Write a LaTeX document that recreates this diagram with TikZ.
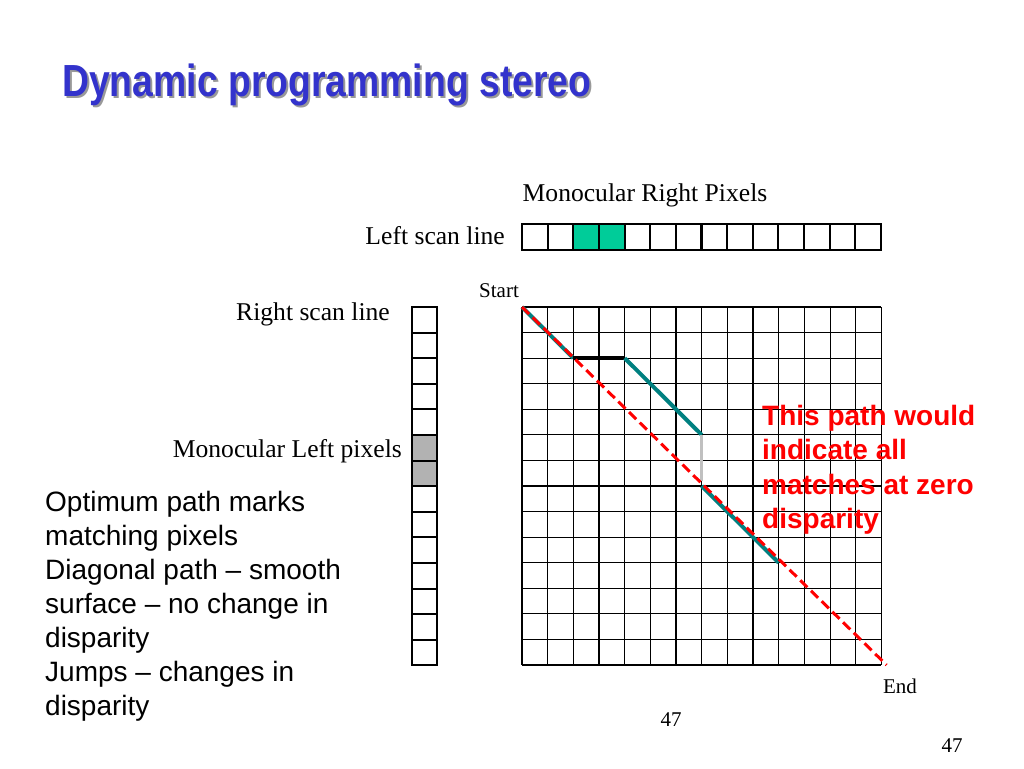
\documentclass[tikz,border=0pt]{standalone}
\usepackage{fontspec}
\setmainfont{Liberation Serif}
\setsansfont{Liberation Sans}
\newfontfamily\titlefont[FakeStretch=0.83]{Liberation Sans}
\usetikzlibrary{calc}
\usetikzlibrary{positioning}
\definecolor{titleblue}{RGB}{51,51,204}
\definecolor{cellgreen}{RGB}{0,204,153}
\definecolor{pathteal}{RGB}{0,128,128}
\definecolor{jumpgray}{RGB}{192,192,192}
\definecolor{cellgray}{RGB}{178,178,178}

\begin{document}
\begin{tikzpicture}[x=1pt, y=-1pt]
   \tikzstyle{cell}=[rectangle, draw, line width=2pt, minimum width=25.6pt, minimum height=25.6pt, inner sep=0pt]
   \tikzstyle{lbl}=[inner sep=0pt, font=\fontsize{25.6}{30}\selectfont]
   \tikzstyle{small}=[inner sep=0pt, font=\fontsize{21}{25}\selectfont]
   \tikzstyle{gridline}=[line width=1.1pt]
   \tikzstyle{match}=[pathteal, line width=4pt, line join=round]
   \useasboundingbox (0,0) rectangle (1024,768);

   % Title
   \node[anchor=base west, inner sep=0pt, text=black!40, font=\titlefont\bfseries\fontsize{45}{54}\selectfont] (shadow) at (64,98) {Dynamic programming stereo};
   \node[anchor=base west, inner sep=0pt, text=titleblue, font=\titlefont\bfseries\fontsize{45}{54}\selectfont] (title) at (62,96) {Dynamic programming stereo};

   % Left scan line (top row of pixels)
   \foreach \i/\c in {1/white,2/white,3/cellgreen,4/cellgreen,5/white,6/white,7/white,8/white,9/white,10/white,11/white,12/white,13/white,14/white}
      \node[cell, fill=\c] (top\i) at ({522+25.64*(\i-0.5)}, 237) {};
   % Right scan line (column of pixels)
   \foreach \i/\c in {1/white,2/white,3/white,4/white,5/white,6/cellgray,7/cellgray,8/white,9/white,10/white,11/white,12/white,13/white,14/white}
      \node[cell, fill=\c] (side\i) at (424.5, {307+25.6*(\i-0.5)}) {};

   % Labels
   \node[lbl, anchor=base] (monoright) at (645,201) {Monocular Right Pixels};
   \node[lbl, anchor=base east] (leftscan) at (505,244) {Left scan line};
   \node[lbl, anchor=base east] (rightscan) at (390,320) {Right scan line};
   \node[lbl, anchor=base east] (monoleft) at (402,457) {Monocular Left pixels};
   \node[small, anchor=base] (startlbl) at (499,297) {Start};
   \node[small, anchor=base] (endlbl) at (900,693) {End};
   \node[small, anchor=base] (pagea) at (671,726) {47};
   \node[small, anchor=base] (pageb) at (952,752) {47};

   % Match grid
   \begin{scope}[shift={(522,307)}, x=25.67pt, y=-25.57pt]
      \foreach \i in {0,...,14} {
         \draw[gridline] (\i,0) -- (\i,14);
         \draw[gridline] (0,\i) -- (14,\i);
      }
      \coordinate (start) at (0,0);
      \coordinate (occa) at (2,2);
      \coordinate (occb) at (4,2);
      \coordinate (occc) at (7,5);
      \coordinate (occd) at (7,6.8);
      \coordinate (back) at (7,7);
      \coordinate (last) at (10,10);
      \coordinate (finish) at (14.2,14);
   \end{scope}

   % Optimum path
   \draw[match] (start) -- (occa);
   \draw[line width=4pt] (occa) -- (occb);
   \draw[match] (occb) -- (occc);
   \draw[jumpgray, line width=3.5pt] (occc) -- (occd);
   \draw[match] (back) -- (last);
   % Zero disparity path
   \draw[red, line width=3pt, dash pattern=on 10pt off 5pt] (start) -- (finish);

   % Text
   \node[anchor=north west, align=left, inner sep=0pt, font=\sffamily\fontsize{28}{34}\selectfont] (notes) at (45,491) {Optimum path marks\\matching pixels\\Diagonal path -- smooth\\surface -- no change in\\disparity\\Jumps -- changes in\\disparity};
   \node[anchor=north west, align=left, inner sep=0pt, text=red, font=\sffamily\bfseries\fontsize{28}{34.3}\selectfont] (zerodisp) at (762,405) {This path would\\indicate all\\matches at zero\\disparity};
\end{tikzpicture}
\end{document}
